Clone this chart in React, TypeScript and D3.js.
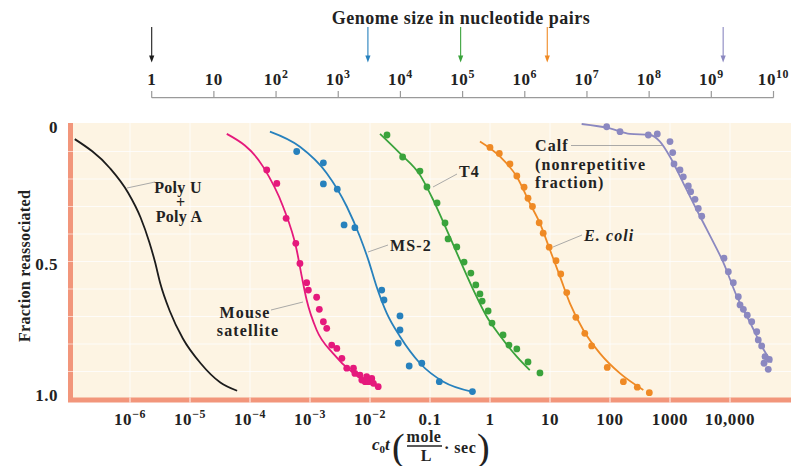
import React, { useEffect, useRef } from 'react';
import * as d3 from 'd3';

// top axis: genome size in nucleotide pairs
const genomeTicks = [1, 1e1, 1e2, 1e3, 1e4, 1e5, 1e6, 1e7, 1e8, 1e9, 1e10];
const genomeTickLabels: [string, string][] = [
  ['1', ''], ['10', ''], ['10', '2'], ['10', '3'], ['10', '4'], ['10', '5'],
  ['10', '6'], ['10', '7'], ['10', '8'], ['10', '9'], ['10', '10'],
];
// poly U + poly A, MS-2, T4, E. coli, calf
const genomeSizes = [1, 3000, 9.3e4, 2.3e6, 1.55e9];
const genomeColors = ['#1c1c1c', '#2781bd', '#3aa33c', '#ef8a25', '#8b88c0'];

// bottom axis: c0t (mole/L · sec)
const c0tTicks = [1e-6, 1e-5, 1e-4, 1e-3, 1e-2, 0.1, 1, 10, 100, 1000, 10000];
const c0tTickLabels: [string, string][] = [
  ['10', '\u22126'], ['10', '\u22125'], ['10', '\u22124'], ['10', '\u22123'], ['10', '\u22122'],
  ['0.1', ''], ['1', ''], ['10', ''], ['100', ''], ['1000', ''], ['10,000', ''],
];

// left axis: fraction reassociated
const fractionTicks = [0, 0.5, 1];
const fractionTickLabels = ['0', '0.5', '1.0'];
const fractionGrid = [0.1, 0.2, 0.3, 0.4, 0.5, 0.6, 0.7, 0.8, 0.9];

// fitted curves, [c0t, fraction]
const polyCurve: [number, number][] = [
  [1.2e-7, 0.055], [4.6e-7, 0.16], [9.3e-7, 0.25], [1.5e-6, 0.34], [2.1e-6, 0.43], [2.6e-6, 0.5],
  [3.2e-6, 0.58], [4.6e-6, 0.68], [7.6e-6, 0.78], [1.5e-5, 0.87], [3.2e-5, 0.94], [6.1e-5, 0.97],
];
const mouseCurve: [number, number][] = [
  [4.1e-5, 0.036], [1.65e-4, 0.155], [3.55e-4, 0.3], [6.0e-4, 0.458], [7.3e-4, 0.555], [8.8e-4, 0.64],
  [1.29e-3, 0.749], [2.4e-3, 0.833], [5.2e-3, 0.905], [1.36e-2, 0.956],
];
const ms2Curve: [number, number][] = [
  [2.15e-4, 0.028], [6.8e-4, 0.083], [1.9e-3, 0.179], [4.1e-3, 0.3], [6.8e-3, 0.41], [9.4e-3, 0.495],
  [1.29e-2, 0.592], [1.9e-2, 0.688], [3.16e-2, 0.773], [6.8e-2, 0.87], [0.167, 0.937], [0.495, 0.973],
];
const t4Curve: [number, number][] = [
  [1.47e-2, 0.036], [3.16e-2, 0.107], [6.8e-2, 0.185], [0.113, 0.276], [0.19, 0.385], [0.316, 0.495],
  [0.53, 0.604], [0.88, 0.7], [1.47, 0.77], [2.8, 0.846], [4.6, 0.895],
];
const ecoliCurve: [number, number][] = [
  [0.68, 0.064], [1.47, 0.119], [2.8, 0.192], [4.6, 0.288], [6.8, 0.361], [10, 0.458],
  [14.7, 0.555], [21.5, 0.652], [35.9, 0.749], [68, 0.834], [147, 0.907], [359, 0.967],
];
const calfCurve: [number, number][] = [
  [33.7, 0.0], [100, 0.016], [215, 0.036], [464, 0.04], [681, 0.064], [1000, 0.119],
  [1667, 0.215], [2786, 0.312], [4640, 0.406], [7730, 0.503], [12900, 0.625], [21500, 0.721],
  [35900, 0.818], [49500, 0.867],
];

// measured points, [c0t, fraction]
const mouseDots: [number, number][] = [
  [1.9e-4, 0.167], [2.8e-4, 0.216], [4.0e-4, 0.343], [5.8e-4, 0.434], [6.8e-4, 0.507], [8.8e-4, 0.577],
  [9.4e-4, 0.604], [1.29e-3, 0.63], [1.43e-3, 0.674], [1.67e-3, 0.719], [1.9e-3, 0.743], [2.3e-3, 0.804],
  [2.8e-3, 0.816], [3.4e-3, 0.852], [4.1e-3, 0.888], [5.3e-3, 0.888], [5.6e-3, 0.907], [6.8e-3, 0.913],
  [7.3e-3, 0.931], [8.3e-3, 0.937], [8.8e-3, 0.919], [9.4e-3, 0.937], [1.07e-2, 0.925], [1.14e-2, 0.943],
  [1.37e-2, 0.955],
];
const ms2Dots: [number, number][] = [
  [6.0e-4, 0.1], [1.67e-3, 0.141], [1.67e-3, 0.218], [2.85e-3, 0.237], [3.7e-3, 0.367], [5.6e-3, 0.377],
  [1.57e-2, 0.604], [1.71e-2, 0.64], [3.16e-2, 0.698], [3.16e-2, 0.749], [2.96e-2, 0.797], [4.5e-2, 0.88],
  [7.3e-2, 0.87], [0.143, 0.937], [0.51, 0.973],
];
const t4Dots: [number, number][] = [
  [1.92e-2, 0.04], [3.5e-2, 0.12], [6.8e-2, 0.171], [8.9e-2, 0.229], [0.131, 0.287], [0.178, 0.36],
  [0.2, 0.418], [0.28, 0.447], [0.37, 0.502], [0.48, 0.542], [0.58, 0.585], [0.68, 0.618],
  [0.74, 0.644], [0.93, 0.68], [1.08, 0.724], [1.65, 0.767], [2.07, 0.804], [2.8, 0.818],
  [4.3, 0.865], [6.8, 0.905],
];
const ecoliDots: [number, number][] = [
  [1.0, 0.085], [1.43, 0.107], [2.15, 0.145], [2.8, 0.189], [3.7, 0.23], [4.3, 0.27], [5.1, 0.3],
  [6.6, 0.359], [7.7, 0.397], [9.7, 0.448], [12.6, 0.497], [15.1, 0.545], [19, 0.613], [27, 0.703],
  [38, 0.761], [49.5, 0.807], [90, 0.885], [167, 0.937], [285, 0.957], [452, 0.977],
];
const calfDots: [number, number][] = [
  [88, 0.01], [147, 0.028], [435, 0.04], [614, 0.036], [1000, 0.064], [1110, 0.104], [1166, 0.145],
  [1468, 0.167], [1667, 0.192], [2020, 0.225], [2210, 0.246], [2610, 0.274], [2960, 0.307],
  [3380, 0.335], [7940, 0.488], [9380, 0.537], [11350, 0.577], [13750, 0.628], [14700, 0.658],
  [16700, 0.674], [19400, 0.695], [23000, 0.719], [27900, 0.755], [29600, 0.785], [33700, 0.807],
  [38300, 0.846], [45200, 0.856], [43400, 0.892], [36900, 0.87],
];

const App = () => {
  const chartRef = useRef<SVGSVGElement>(null);

  useEffect(() => {
    drawChart();
  }, []);

  const drawChart = () => {
    const svg = d3.select(chartRef.current);
    svg.selectAll('*').remove();

    const serif = '"Liberation Serif", "DejaVu Serif", serif';
    const cream = '#fdf4e3';
    const salmon = '#f2967b';
    const leader = '#a0a0a0';

    const x = d3.scaleLog().domain([1e-7, 1e5]).range([70, 790]);
    const y = d3.scaleLinear().domain([0, 1]).range([124, 399]);
    const gx = d3.scaleLog().domain([1, 1e10]).range([151.7, 773.5]);

    // plot background + faint grid
    svg.append('rect').attr('x', 70).attr('y', 123).attr('width', 721).attr('height', 277).attr('fill', cream);
    svg.append('g').selectAll('line').data(c0tTicks).join('line')
      .attr('x1', d => x(d)).attr('x2', d => x(d)).attr('y1', 123).attr('y2', 398)
      .attr('stroke', '#fff').attr('stroke-width', 1).attr('opacity', 0.8);
    svg.append('g').selectAll('line').data(fractionGrid).join('line')
      .attr('x1', 73).attr('x2', 791).attr('y1', d => y(d)).attr('y2', d => y(d))
      .attr('stroke', '#fff').attr('stroke-width', 1).attr('opacity', 0.8);

    // axis bars
    svg.append('rect').attr('x', 68).attr('y', 397.5).attr('width', 723).attr('height', 5).attr('fill', salmon);
    svg.append('rect').attr('x', 68).attr('y', 123).attr('width', 5).attr('height', 279).attr('fill', salmon);
    svg.append('g').selectAll('line').data(c0tTicks).join('line')
      .attr('x1', d => x(d)).attr('x2', d => x(d)).attr('y1', 397.5).attr('y2', 402.5)
      .attr('stroke', '#fff').attr('stroke-width', 1.2).attr('opacity', 0.8);
    svg.append('g').selectAll('line').data(fractionGrid).join('line')
      .attr('x1', 68).attr('x2', 73).attr('y1', d => y(d)).attr('y2', d => y(d))
      .attr('stroke', '#fff').attr('stroke-width', 1).attr('opacity', 0.6);

    const supLabel = (g, base: string, sup: string, px: number, py: number, size: number) => {
      const t = g.append('text').attr('x', px).attr('y', py).attr('text-anchor', 'middle')
        .attr('font-family', serif).attr('font-weight', 'bold').attr('font-size', size)
        .attr('letter-spacing', 0.6).attr('fill', '#222');
      t.append('tspan').text(base);
      if (sup) t.append('tspan').attr('dy', -size * 0.42).attr('font-size', size * 0.7).text(sup);
    };

    // bottom tick labels
    const bl = svg.append('g');
    c0tTicks.forEach((t, i) => supLabel(bl, c0tTickLabels[i][0], c0tTickLabels[i][1], x(t), 425, 17));

    // left tick labels
    svg.append('g').selectAll('text').data(fractionTicks).join('text')
      .attr('x', 58).attr('y', (d, i) => y(d) + (i === 0 ? 9 : i === 2 ? 2 : 8))
      .attr('text-anchor', 'end').attr('font-family', serif).attr('font-weight', 'bold')
      .attr('font-size', 17).attr('letter-spacing', 0.5).attr('fill', '#222')
      .text((d, i) => fractionTickLabels[i]);

    svg.append('text').attr('transform', 'translate(30,266) rotate(-90)').attr('text-anchor', 'middle')
      .attr('font-family', serif).attr('font-weight', 'bold').attr('font-size', 16).attr('letter-spacing', 0.3)
      .attr('fill', '#222')
      .text('Fraction reassociated');

    // x axis title c0t (mole/L · sec)
    const xt = svg.append('g').attr('font-family', serif).attr('font-weight', 'bold').attr('fill', '#222');
    const c0 = xt.append('text').attr('x', 372).attr('y', 450).attr('font-size', 17);
    c0.append('tspan').attr('font-style', 'italic').text('c');
    c0.append('tspan').attr('font-size', 11).attr('dy', 3).text('0');
    c0.append('tspan').attr('font-style', 'italic').attr('dy', -3).text('t');
    xt.append('text').attr('x', 392).attr('y', 460).attr('font-size', 38).attr('font-weight', 'normal').text('(');
    xt.append('text').attr('x', 424).attr('y', 442).attr('text-anchor', 'middle').attr('font-size', 16)
      .attr('letter-spacing', 0.5).text('mole');
    xt.append('line').attr('x1', 407).attr('x2', 442).attr('y1', 446).attr('y2', 446).attr('stroke', '#222').attr('stroke-width', 1.3);
    xt.append('text').attr('x', 426).attr('y', 461).attr('text-anchor', 'middle').attr('font-size', 16).text('L');
    xt.append('text').attr('x', 444).attr('y', 453).attr('font-size', 16).attr('letter-spacing', 0.5).text('\u00b7 sec');
    xt.append('text').attr('x', 477).attr('y', 460).attr('font-size', 38).attr('font-weight', 'normal').text(')');

    // top genome axis
    svg.append('text').attr('x', 461).attr('y', 24).attr('text-anchor', 'middle')
      .attr('font-family', serif).attr('font-weight', 'bold').attr('font-size', 18).attr('letter-spacing', 0.5)
      .attr('fill', '#222')
      .text('Genome size in nucleotide pairs');
    svg.append('line').attr('x1', gx(1)).attr('x2', gx(1e10)).attr('y1', 97.7).attr('y2', 97.7)
      .attr('stroke', '#9a9a9a').attr('stroke-width', 1.2);
    svg.append('g').selectAll('line').data(genomeTicks).join('line')
      .attr('x1', d => gx(d)).attr('x2', d => gx(d)).attr('y1', 91).attr('y2', 97.7)
      .attr('stroke', '#9a9a9a').attr('stroke-width', 1.2);
    const tl = svg.append('g');
    genomeTicks.forEach((t, i) => supLabel(tl, genomeTickLabels[i][0], genomeTickLabels[i][1], gx(t), 85, 17));

    const arrows = svg.append('g');
    genomeSizes.forEach((s, i) => {
      const ax = gx(s);
      arrows.append('line').attr('x1', ax).attr('x2', ax).attr('y1', 27).attr('y2', 57)
        .attr('stroke', genomeColors[i]).attr('stroke-width', 1.1);
      arrows.append('path').attr('d', `M${ax - 2.6},55.5L${ax + 2.6},55.5L${ax},62.5Z`).attr('fill', genomeColors[i]);
    });

    // curves and points
    const line = d3.line<[number, number]>().x(d => x(d[0])).y(d => y(d[1])).curve(d3.curveMonotoneX);
    const series = [
      { curve: polyCurve, dots: [] as [number, number][], color: '#1c1c1c' },
      { curve: mouseCurve, dots: mouseDots, color: '#e5197c' },
      { curve: ms2Curve, dots: ms2Dots, color: '#2781bd' },
      { curve: t4Curve, dots: t4Dots, color: '#3aa33c' },
      { curve: ecoliCurve, dots: ecoliDots, color: '#ef8a25' },
      { curve: calfCurve, dots: calfDots, color: '#8b88c0' },
    ];
    series.forEach(s => {
      svg.append('path').attr('d', line(s.curve)).attr('fill', 'none')
        .attr('stroke', s.color).attr('stroke-width', 1.8);
      svg.append('g').selectAll('circle').data(s.dots).join('circle')
        .attr('cx', d => x(d[0])).attr('cy', d => y(d[1])).attr('r', 3.4).attr('fill', s.color);
    });

    // annotations
    const ann = svg.append('g').attr('font-family', serif).attr('font-weight', 'bold')
      .attr('font-size', 16).attr('letter-spacing', 1.1).attr('fill', '#222');
    const leaderLine = (x1: number, y1: number, x2: number, y2: number) =>
      ann.append('line').attr('x1', x1).attr('y1', y1).attr('x2', x2).attr('y2', y2)
        .attr('stroke', leader).attr('stroke-width', 0.9);

    leaderLine(127, 188, 155, 182);
    ann.append('text').attr('x', 178).attr('y', 193).attr('text-anchor', 'middle').attr('letter-spacing', 0.3).text('Poly U');
    ann.append('text').attr('x', 181).attr('y', 208).attr('text-anchor', 'middle').attr('font-size', 16).text('+');
    ann.append('text').attr('x', 179).attr('y', 222).attr('text-anchor', 'middle').attr('letter-spacing', 0.3).text('Poly A');

    leaderLine(271, 310, 303, 302);
    ann.append('text').attr('x', 245).attr('y', 318).attr('text-anchor', 'middle').text('Mouse');
    ann.append('text').attr('x', 248).attr('y', 336).attr('text-anchor', 'middle').text('satellite');

    leaderLine(368, 252, 388, 245);
    ann.append('text').attr('x', 390).attr('y', 251).text('MS-2');

    leaderLine(433, 187, 457, 174);
    ann.append('text').attr('x', 459).attr('y', 177).text('T4');

    leaderLine(553, 247, 582, 235);
    ann.append('text').attr('x', 584).attr('y', 241).attr('font-style', 'italic').text('E. coli');

    leaderLine(571, 145.5, 662, 145.5);
    ann.append('text').attr('x', 535).attr('y', 151).text('Calf');
    ann.append('text').attr('x', 535).attr('y', 170).text('(nonrepetitive');
    ann.append('text').attr('x', 535).attr('y', 188).text('fraction)');
  };

  return (
    <svg ref={chartRef} width={791} height={466}
      style={{ position: 'absolute', left: 0, top: 0, background: '#fff' }}>
      {/* drawn by D3 */}
    </svg>
  );
};

export default App;
